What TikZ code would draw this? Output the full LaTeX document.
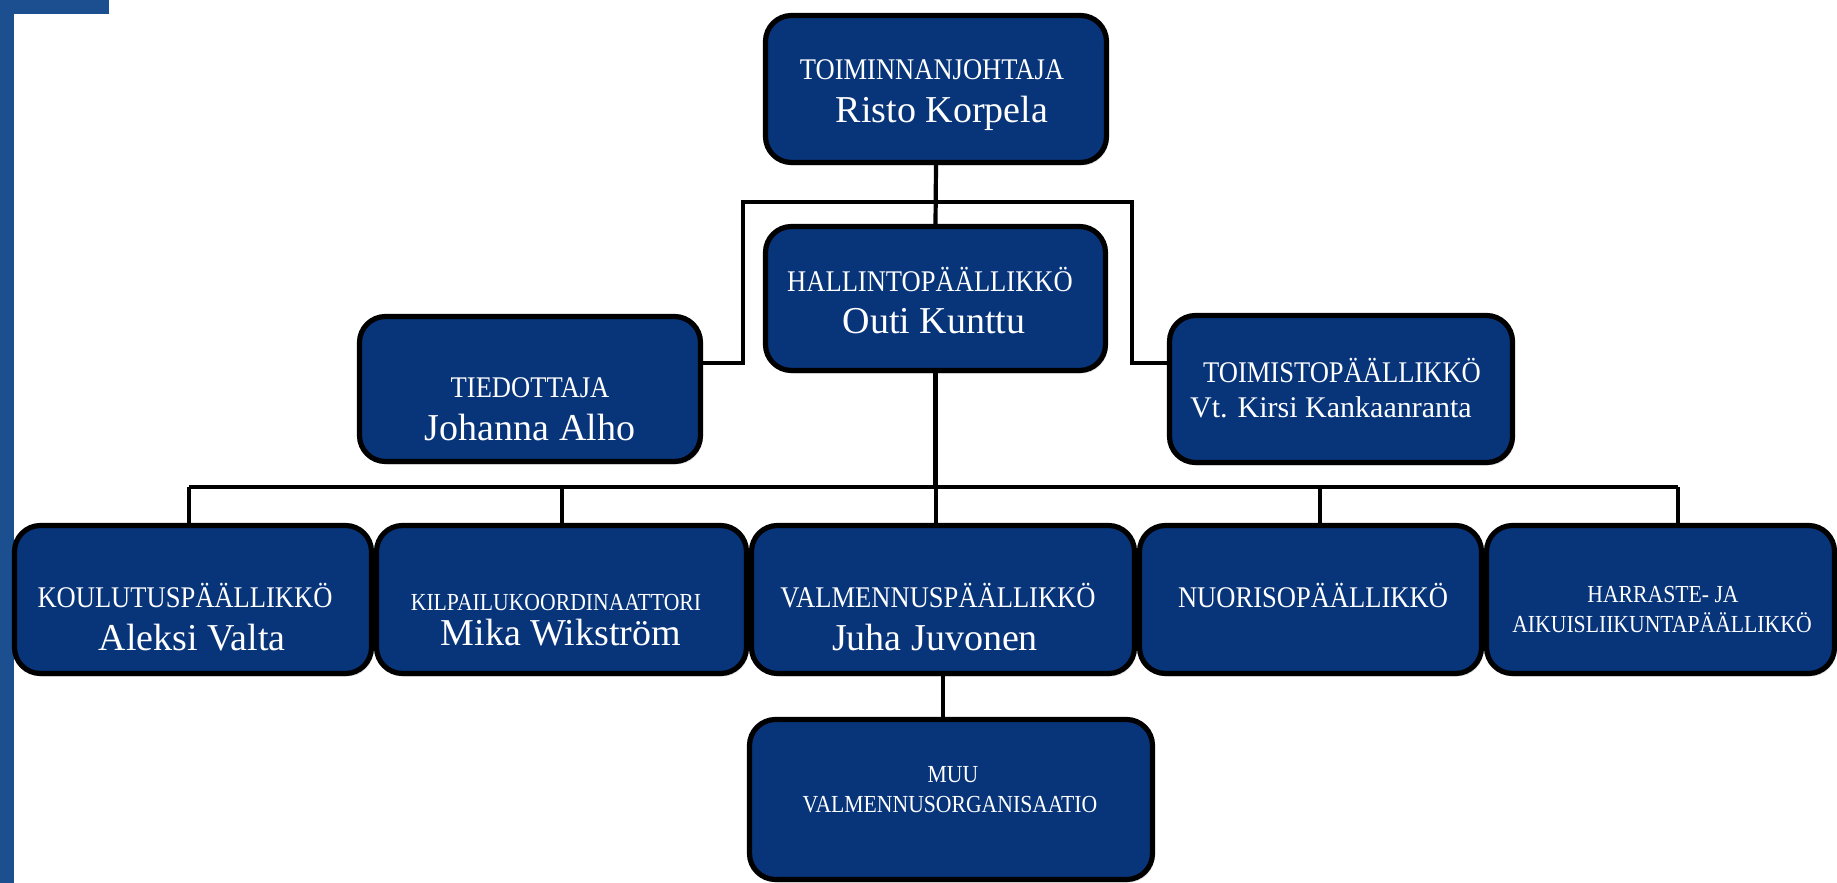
\documentclass[tikz,border=0pt]{standalone}
\usepackage{fontspec}
\usepackage{graphicx}
\setmainfont{Liberation Serif}
\usetikzlibrary{fit,shadows}
\definecolor{boxblue}{RGB}{8,53,122}
\definecolor{barblue}{RGB}{27,79,143}
\newcommand{\capsq}[1]{\scalebox{0.885}[1]{#1}}
\begin{document}
\begin{tikzpicture}[x=0.5pt,y=-0.5pt,
 box/.style={draw=black, line width=2.6pt, fill=boxblue, rounded corners=13pt, inner sep=0pt,
   drop shadow={shadow xshift=1pt, shadow yshift=-1.5pt, opacity=0.25}},
 conn/.style={draw=black, line width=2.1pt},
 ttl/.style={text=white, anchor=base, inner sep=0pt, font=\fontsize{15}{18}\selectfont},
 nam/.style={ttl, font=\fontsize{19}{22}\selectfont},
 sml/.style={ttl, font=\fontsize{12.25}{14}\selectfont}]
\useasboundingbox (0,0) rectangle (1837,883);
\fill[barblue] (0,0) rectangle (14,883);
\fill[barblue] (0,0) rectangle (109,14);

% boxes
\node[box, fit={(765.5,15.5) (1106.5,162.5)}] (top) {};
\node[box, fit={(765.5,226.5) (1105.5,370.5)}] (hall) {};
\node[box, fit={(359.5,316.5) (700.5,461.5)}] (tied) {};
\node[box, fit={(1169.5,315.5) (1512.5,462.5)}] (tois) {};
\node[box, fit={(14.5,525.5) (371.5,673.5)}] (kou) {};
\node[box, fit={(376.5,525.5) (746.5,673.5)}] (kil) {};
\node[box, fit={(751.5,525.5) (1134.5,673.5)}] (val) {};
\node[box, fit={(1139.5,525.5) (1481.5,673.5)}] (nuo) {};
\node[box, fit={(1486.5,525.5) (1834.5,673.5)}] (har) {};
\node[box, fit={(749.5,719.5) (1152.5,879.5)}] (muu) {};

% connectors
\coordinate (jl) at (743,202);
\coordinate (jr) at (1132,202);
\coordinate (ll) at (743,363);
\coordinate (lr) at (1132,363);
\draw[conn] (top.south) -- (hall.north);
\draw[conn] (tied.east |- ll) -- (ll) -- (jl) -- (jr) -- (lr) -- (tois.west |- lr);
\coordinate (d1) at (189,487);
\coordinate (d2) at (562,487);
\coordinate (d3) at (936,487);
\coordinate (d4) at (1320,487);
\coordinate (d5) at (1678,487);
\draw[conn] (hall.south) -- (hall.south |- d3);
\draw[conn] (d1) -- (d5);
\draw[conn] (d1) -- (d1 |- kou.north);
\draw[conn] (d2) -- (d2 |- kil.north);
\draw[conn] (d3) -- (d3 |- val.north);
\draw[conn] (d4) -- (d4 |- nuo.north);
\draw[conn] (d5) -- (d5 |- har.north);
\draw[conn] (val.south) -- (val.south |- muu.north);

% texts
\node[ttl] (top-t) at (932,80) {\capsq{TOIMINNANJOHTAJA}};
\node[nam] (top-n) at (942,123) {Risto Korpela};
\node[ttl] (hall-t) at (930,291) {\capsq{HALLINTOPÄÄLLIKKÖ}};
\node[nam] (hall-n) at (934,333) {Outi Kunttu};
\node[ttl] (tied-t) at (530,397) {\capsq{TIEDOTTAJA}};
\node[nam] (tied-n) at (530,440) {Johanna Alho};
\node[ttl] (tois-t) at (1342,382) {\capsq{TOIMISTOPÄÄLLIKKÖ}};
\node[ttl] (tois-n) at (1331,417) {Vt. Kirsi Kankaanranta};
\node[ttl] (kou-t) at (185,607) {\capsq{KOULUTUSPÄÄLLIKKÖ}};
\node[nam] (kou-n) at (192,650) {Aleksi Valta};
\node[sml] (kil-t) at (556,610) {\capsq{KILPAILUKOORDINAATTORI}};
\node[nam] (kil-n) at (561,645) {Mika Wikström};
\node[ttl] (val-t) at (938,607) {\capsq{VALMENNUSPÄÄLLIKKÖ}};
\node[nam] (val-n) at (935,650) {Juha Juvonen};
\node[ttl] (nuo-t) at (1313,607) {\capsq{NUORISOPÄÄLLIKKÖ}};
\node[sml] (har-t1) at (1663,602) {\capsq{HARRASTE- JA}};
\node[sml] (har-t2) at (1662,632) {\capsq{AIKUISLIIKUNTAPÄÄLLIKKÖ}};
\node[sml] (muu-t1) at (953,782) {\capsq{MUU}};
\node[sml] (muu-t2) at (950,812) {\capsq{VALMENNUSORGANISAATIO}};
\end{tikzpicture}
\end{document}
